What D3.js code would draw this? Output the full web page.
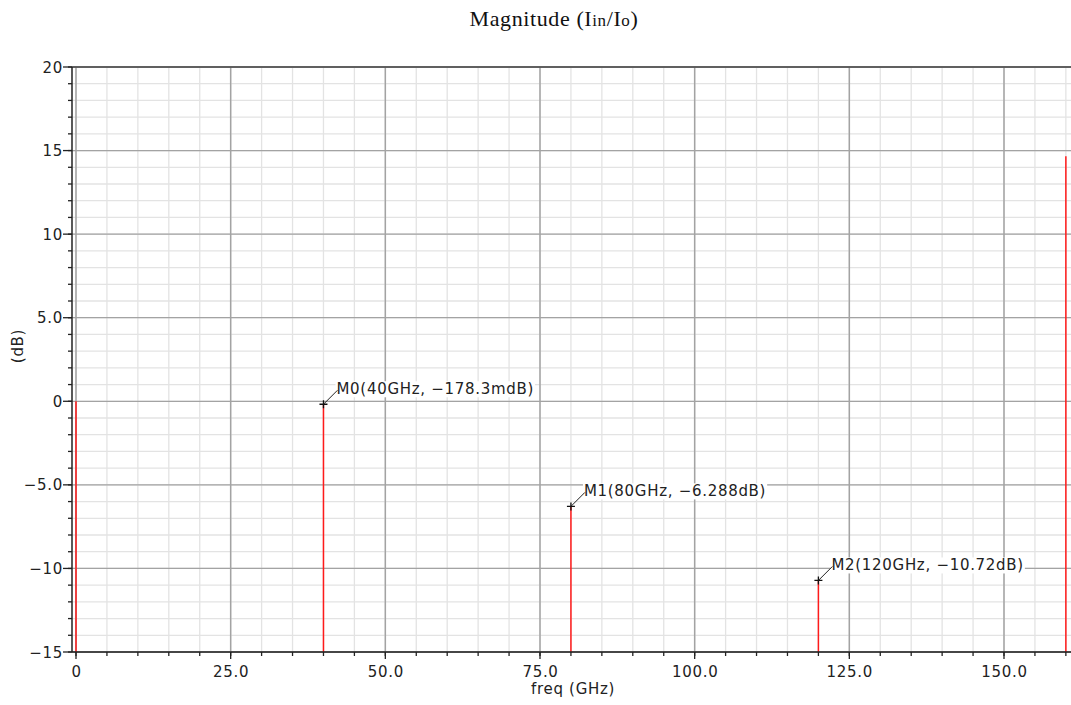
<!DOCTYPE html>
<html>
<head>
<meta charset="utf-8">
<script src="https://cdn.jsdelivr.net/npm/d3@7"></script>
<style>
  body { margin: 0; background: #fff; }
  text { font-family: "DejaVu Sans", sans-serif; letter-spacing: 0.7px; }
</style>
</head>
<body>
<svg id="chart" width="1071" height="705"></svg>
<script>
// spectrum lines (freq in GHz, magnitude in dB)
const freqs = [0, 40, 80, 120, 160];
const mags = [0, -0.1783, -6.288, -10.72, 14.66];

// markers
const markerNames = ["M0", "M1", "M2"];
const markerFreqs = [40, 80, 120];
const markerMags = [-0.1783, -6.288, -10.72];
const markerTexts = ["M0(40GHz, \u2212178.3mdB)", "M1(80GHz, \u22126.288dB)", "M2(120GHz, \u221210.72dB)"];

// ticks
const xTicks = [0, 25, 50, 75, 100, 125, 150];
const xTickLabels = ["0", "25.0", "50.0", "75.0", "100.0", "125.0", "150.0"];
const yTicks = [20, 15, 10, 5, 0, -5, -10, -15];
const yTickLabels = ["20", "15", "10", "5.0", "0", "\u22125.0", "\u221210", "\u221215"];

const svg = d3.select("#chart");
const pLeft = 72, pRight = 1071, pTop = 67, pBottom = 652;

const x = d3.scaleLinear().domain([0, 150]).range([76, 1004]);
const y = d3.scaleLinear().domain([-15, 20]).range([pBottom, pTop]);

// minor grid
const xMinor = d3.range(0, 165, 5);
const yMinor = d3.range(-15, 21, 1);
svg.append("g").selectAll("line").data(xMinor).join("line")
  .attr("x1", d => x(d)).attr("x2", d => x(d))
  .attr("y1", pTop).attr("y2", pBottom)
  .attr("stroke", "#e3e3e3").attr("stroke-width", 1.3);
svg.append("g").selectAll("line").data(yMinor).join("line")
  .attr("x1", pLeft).attr("x2", pRight)
  .attr("y1", d => y(d)).attr("y2", d => y(d))
  .attr("stroke", "#e3e3e3").attr("stroke-width", 1.3);

// major grid
svg.append("g").selectAll("line").data(xTicks).join("line")
  .attr("x1", d => x(d)).attr("x2", d => x(d))
  .attr("y1", pTop).attr("y2", pBottom)
  .attr("stroke", "#a3a3a3").attr("stroke-width", 1.5);
svg.append("g").selectAll("line").data(yTicks).join("line")
  .attr("x1", pLeft).attr("x2", pRight)
  .attr("y1", d => y(d)).attr("y2", d => y(d))
  .attr("stroke", "#a3a3a3").attr("stroke-width", 1.3);

// top border
svg.append("line").attr("x1", pLeft).attr("x2", pRight).attr("y1", pTop).attr("y2", pTop)
  .attr("stroke", "#444").attr("stroke-width", 1.5);

// stems
svg.append("g").selectAll("line").data(freqs).join("line")
  .attr("x1", d => x(d)).attr("x2", d => x(d))
  .attr("y1", (d, i) => y(mags[i])).attr("y2", pBottom)
  .attr("stroke", "#ff1a1a").attr("stroke-width", 1.5);

// axes
const yAxis = svg.append("g");
yAxis.append("line").attr("x1", pLeft).attr("x2", pLeft).attr("y1", pTop).attr("y2", pBottom)
  .attr("stroke", "#222").attr("stroke-width", 1.5);
yAxis.selectAll(".minor").data(yMinor).join("line").attr("class", "minor")
  .attr("x1", pLeft - 4).attr("x2", pLeft)
  .attr("y1", d => y(d)).attr("y2", d => y(d))
  .attr("stroke", "#222").attr("stroke-width", 1.3);
yAxis.selectAll(".major").data(yTicks).join("line").attr("class", "major")
  .attr("x1", pLeft - 9).attr("x2", pLeft)
  .attr("y1", d => y(d)).attr("y2", d => y(d))
  .attr("stroke", "#222").attr("stroke-width", 1.3);
yAxis.selectAll("text").data(yTicks).join("text")
  .attr("x", pLeft - 9).attr("y", d => y(d) + 5.5)
  .attr("text-anchor", "end").attr("font-size", 15).attr("fill", "#222")
  .text((d, i) => yTickLabels[i]);

const xAxis = svg.append("g");
xAxis.append("line").attr("x1", pLeft).attr("x2", pRight).attr("y1", pBottom).attr("y2", pBottom)
  .attr("stroke", "#222").attr("stroke-width", 1.5);
xAxis.selectAll(".minor").data(xMinor).join("line").attr("class", "minor")
  .attr("x1", d => x(d)).attr("x2", d => x(d))
  .attr("y1", pBottom).attr("y2", pBottom + 4)
  .attr("stroke", "#222").attr("stroke-width", 1.3);
xAxis.selectAll(".major").data(xTicks).join("line").attr("class", "major")
  .attr("x1", d => x(d)).attr("x2", d => x(d))
  .attr("y1", pBottom).attr("y2", pBottom + 7)
  .attr("stroke", "#222").attr("stroke-width", 1.3);
xAxis.selectAll("text").data(xTicks).join("text")
  .attr("x", d => x(d) + 0.5).attr("y", 677)
  .attr("text-anchor", "middle").attr("font-size", 15).attr("fill", "#222")
  .text((d, i) => xTickLabels[i]);

// axis titles
svg.append("text").attr("x", 573).attr("y", 694).attr("text-anchor", "middle")
  .attr("font-size", 15).attr("fill", "#222").text("freq (GHz)");
svg.append("text").attr("transform", "translate(23,346) rotate(-90)")
  .attr("text-anchor", "middle").attr("font-size", 15).attr("fill", "#222").text("(dB)");

// title
const title = svg.append("text").attr("x", 554).attr("y", 26).attr("text-anchor", "middle")
  .style("font-family", "'Liberation Serif', 'Times New Roman', serif")
  .style("letter-spacing", "0.6px")
  .attr("font-size", 22).attr("fill", "#111");
title.append("tspan").text("Magnitude (I");
title.append("tspan").attr("font-size", 17).text("in");
title.append("tspan").text("/I");
title.append("tspan").attr("font-size", 17).text("o");
title.append("tspan").text(")");

// markers
const mk = svg.append("g").selectAll("g").data(markerFreqs).join("g")
  .attr("transform", (d, i) => `translate(${x(d)},${y(markerMags[i])})`);
mk.append("path").attr("d", "M-4,0H4M0,-4V4").attr("stroke", "#111").attr("stroke-width", 1.3);
const lbl = mk.append("text").attr("x", 13).attr("y", -10)
  .attr("font-size", 15).attr("fill", "#222")
  .text((d, i) => markerTexts[i]);
lbl.each(function() {
  const b = this.getBBox();
  d3.select(this.parentNode).insert("rect", "text")
    .attr("x", b.x - 1).attr("y", b.y + 1).attr("width", b.width + 2).attr("height", b.height - 2)
    .attr("fill", "#fff");
});
// leader line on top of the box
mk.append("line").attr("x1", 0).attr("y1", 0).attr("x2", 14).attr("y2", -14)
  .attr("stroke", "#222").attr("stroke-width", 1);
</script>
</body>
</html>
